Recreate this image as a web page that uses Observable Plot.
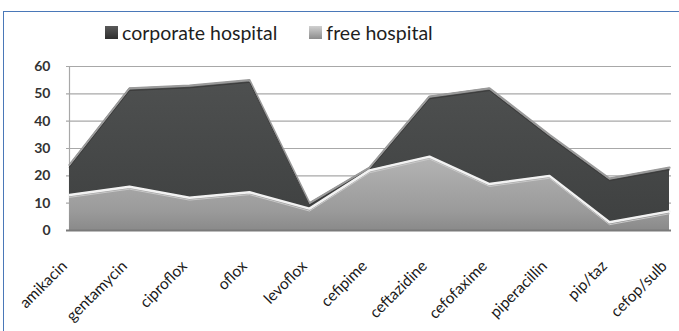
<!DOCTYPE html>
<html>
<head>
<meta charset="utf-8">
<script src="https://cdn.jsdelivr.net/npm/d3@7"></script>
<script src="https://cdn.jsdelivr.net/npm/@observablehq/plot@0.6"></script>
<style>
  html, body { margin: 0; padding: 0; background: #fff; }
  body { width: 679px; height: 331px; position: relative; overflow: hidden; font-family: Lato, "Open Sans", sans-serif; }
  #frame { position: absolute; left: 3px; top: 11px; width: 690px; height: 340px; border: 1.5px solid #4a78b8; box-sizing: border-box; pointer-events: none; }
  #legend { height: 56px; display: flex; justify-content: flex-start; align-items: center; gap: 32px; font-size: 19.5px; color: #1e1e1e; padding: 9px 0 0 105px; box-sizing: border-box; }
  #legend span.item { display: inline-flex; align-items: center; gap: 4px; }
  #legend i { display: inline-block; width: 13px; height: 13px; }
  #chart svg { display: block; }
</style>
</head>
<body>
<div id="legend"></div>
<div id="chart"></div>
<div id="frame"></div>
<script>
// Antibiotics tested, in axis order
const drugs = ["amikacin", "gentamycin", "ciproflox", "oflox", "levoflox", "cefipime",
  "ceftazidine", "cefofaxime", "piperacillin", "pip/taz", "cefop/sulb"];
// Values per hospital type
const corporate = [24, 52, 53, 55, 10, 23, 49, 52, 35, 19, 23];
const free = [13, 16, 12, 14, 8, 22, 27, 17, 20, 3, 7];
const seriesNames = ["corporate hospital", "free hospital"];
const yTicks = [0, 10, 20, 30, 40, 50, 60];

const rows = drugs.map((d, i) => ({drug: d, corporate: corporate[i], free: free[i]}));

// Legend
const legend = document.getElementById("legend");
const swatches = ["linear-gradient(#5a5a5a,#2e2e2e)", "linear-gradient(#d0d0d0,#8c8c8c)"];
seriesNames.forEach((name, i) => {
  const item = document.createElement("span");
  item.className = "item";
  const sw = document.createElement("i");
  sw.style.background = swatches[i];
  item.appendChild(sw);
  item.appendChild(document.createTextNode(name));
  legend.appendChild(item);
});

const chart = Plot.plot({
  width: 679,
  height: 275,
  marginLeft: 66,
  marginRight: 8,
  marginTop: 10,
  marginBottom: 101,
  style: {background: "transparent", fontFamily: "Lato, 'Open Sans', sans-serif"},
  x: {type: "point", domain: drugs, padding: 0, label: null},
  y: {domain: [0, 60], ticks: yTicks, label: null},
  marks: [
    Plot.gridY(yTicks, {stroke: "#a8a8a8", strokeOpacity: 1, strokeWidth: 1.2}),
    Plot.ruleX([drugs[0]], {y1: 0, y2: 60, stroke: "#a8a8a8", strokeWidth: 1.2}),
    // corporate hospital area with bevelled top edge
    Plot.areaY(rows, {x: "drug", y1: 0, y2: "corporate", fill: "url(#gradCorp)"}),
    Plot.lineY(rows, {x: "drug", y: "corporate", stroke: "#9a9a9a", strokeWidth: 2.2}),
    Plot.lineY(rows, {x: "drug", y: "corporate", stroke: "#3c3c3c", strokeWidth: 1, dy: 2.2}),
    // free hospital area drawn in front
    Plot.areaY(rows, {x: "drug", y1: 0, y2: "free", fill: "url(#gradFree)"}),
    Plot.lineY(rows, {x: "drug", y: "free", stroke: "#f2f2f2", strokeWidth: 2.4}),
    Plot.lineY(rows, {x: "drug", y: "free", stroke: "#c8c8c8", strokeWidth: 1, dy: 2.4}),
    Plot.ruleY([0], {stroke: "#7a7a7a", strokeWidth: 2}),
    Plot.axisY(yTicks, {tickSize: 0, tickPadding: 16, fontSize: 14, fontWeight: "bold", fill: "#333"}),
    Plot.axisX(drugs, {tickSize: 0, tickPadding: 23, dx: -5, dy: 10, tickRotate: -45, fontSize: 15.5, fill: "#1a1a1a"})
  ]
});

// Gradients referenced by the area fills
const ns = "http://www.w3.org/2000/svg";
const defs = document.createElementNS(ns, "defs");
function addGradient(id, stops) {
  const g = document.createElementNS(ns, "linearGradient");
  g.setAttribute("id", id);
  g.setAttribute("x1", "0"); g.setAttribute("y1", "0");
  g.setAttribute("x2", "0"); g.setAttribute("y2", "1");
  stops.forEach(([off, col]) => {
    const s = document.createElementNS(ns, "stop");
    s.setAttribute("offset", off);
    s.setAttribute("stop-color", col);
    g.appendChild(s);
  });
  defs.appendChild(g);
}
addGradient("gradCorp", [["0", "#4e5050"], ["1", "#3e4040"]]);
addGradient("gradFree", [["0", "#b4b4b4"], ["0.75", "#9a9a9a"], ["1", "#8a8a8a"]]);
chart.insertBefore(defs, chart.firstChild);

document.getElementById("chart").appendChild(chart);
</script>
</body>
</html>
